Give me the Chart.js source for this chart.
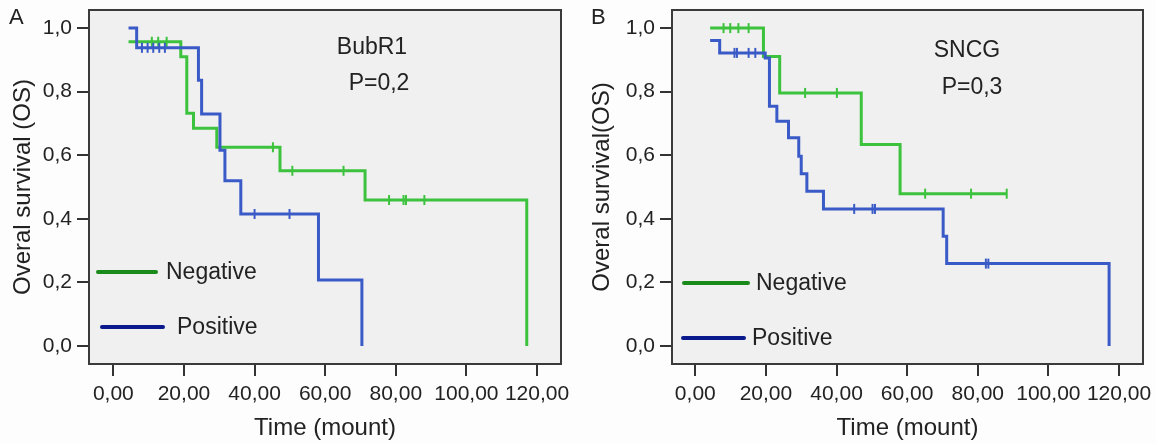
<!DOCTYPE html>
<html>
<head>
<meta charset="utf-8">
<script src="https://cdn.jsdelivr.net/npm/chart.js@4.4.1/dist/chart.umd.min.js"></script>
<style>
  body { margin: 0; background: #fdfdfd; width: 1156px; height: 444px; overflow: hidden; position: relative; }
  canvas { position: absolute; top: 0; }
</style>
</head>
<body>
<canvas id="chartA" width="578" height="444" style="left:0"></canvas>
<canvas id="chartB" width="578" height="444" style="left:578px"></canvas>
<script>
// panel A - BubR1
const negTimeA = [4.3, 19.1, 20.8, 22.7, 29.3, 47.2, 71.3, 117.1];
const negSurvA = [0.957, 0.91, 0.732, 0.685, 0.625, 0.551, 0.459, 0];
const negCensTimeA = [10.9, 12.7, 15.1, 45.2, 50.7, 65.2, 78.1, 82.2, 82.9, 88.1];
const negCensSurvA = [0.957, 0.957, 0.957, 0.625, 0.551, 0.551, 0.459, 0.459, 0.459, 0.459];
const posTimeA = [4.3, 6.6, 24.1, 25.0, 30.2, 31.6, 36.1, 58.1, 70.4];
const posSurvA = [1.0, 0.938, 0.836, 0.73, 0.616, 0.52, 0.415, 0.2075, 0];
const posCensTimeA = [8.1, 9.7, 11.3, 13.0, 14.6, 40.0, 49.9];
const posCensSurvA = [0.938, 0.938, 0.938, 0.938, 0.938, 0.415, 0.415];

// panel B - SNCG
const negTimeB = [4.2, 19.3, 23.9, 47.0, 58.0, 88.2];
const negSurvB = [1.0, 0.911, 0.796, 0.634, 0.479, 0.479];
const negCensTimeB = [8.0, 9.9, 12.2, 15.1, 31.1, 40.1, 65.1, 78.1, 88.2];
const negCensSurvB = [1.0, 1.0, 1.0, 1.0, 0.796, 0.796, 0.479, 0.479, 0.479];
const posTimeB = [4.2, 6.9, 19.8, 21.0, 23.1, 26.4, 29.3, 30.0, 31.6, 36.3, 70.2, 71.2, 117.2];
const posSurvB = [0.961, 0.922, 0.906, 0.754, 0.707, 0.655, 0.597, 0.542, 0.487, 0.431, 0.345, 0.259, 0];
const posCensTimeB = [11.1, 11.8, 15.1, 17.0, 45.0, 50.2, 50.9, 82.3, 83.0];
const posCensSurvB = [0.922, 0.922, 0.922, 0.922, 0.431, 0.431, 0.431, 0.259, 0.259];

const xTicks = [0, 20, 40, 60, 80, 100, 120];
const yTicks = [0, 0.2, 0.4, 0.6, 0.8, 1.0];

const GREEN = '#3cc23c';
const BLUE = '#3a5bc7';
const FONT = '"Liberation Sans", Arial, sans-serif';
const TEXT = '#222';

function pts(t, s) {
    return t.map((v, i) => ({ x: v, y: s[i] }));
}

const decor = {
    id: 'decor',
    beforeDraw(chart, args, o) {
        const ctx = chart.ctx, a = chart.chartArea;
        ctx.save();
        ctx.fillStyle = '#fdfdfd';
        ctx.fillRect(0, 0, chart.width, chart.height);
        ctx.fillStyle = '#f0f0f0';
        ctx.fillRect(a.left, a.top, a.right - a.left, a.bottom - a.top);
        ctx.restore();
    },
    afterDraw(chart, args, o) {
        const ctx = chart.ctx, a = chart.chartArea;
        ctx.save();
        ctx.strokeStyle = '#3a3a3a';
        ctx.lineWidth = 2;
        ctx.strokeRect(a.left, a.top, a.right - a.left, a.bottom - a.top);

        // legend inside the plot
        ctx.lineCap = 'round';
        ctx.lineWidth = 4;
        o.legend.forEach(l => {
            ctx.strokeStyle = l.color;
            ctx.beginPath();
            ctx.moveTo(l.x1, l.y);
            ctx.lineTo(l.x2, l.y);
            ctx.stroke();
            ctx.fillStyle = TEXT;
            ctx.font = '23px ' + FONT;
            ctx.textAlign = 'left';
            ctx.textBaseline = 'middle';
            ctx.fillText(l.text, l.tx, l.y + 1);
        });

        // gene name and p value
        ctx.textAlign = 'center';
        ctx.textBaseline = 'middle';
        ctx.font = '23px ' + FONT;
        o.notes.forEach(n => ctx.fillText(n.text, n.x, n.y));

        ctx.textAlign = 'left';
        ctx.textBaseline = 'top';
        ctx.font = '22px ' + FONT;
        ctx.fillText(o.letter.text, o.letter.x, o.letter.y);
        ctx.restore();
    }
};

function kmChart(id, d) {
    const ctx = document.getElementById(id).getContext('2d');
    return new Chart(ctx, {
        type: 'line',
        data: {
            datasets: [
                { data: pts(d.posT, d.posS), borderColor: BLUE, borderWidth: 3, stepped: 'before', pointRadius: 0 },
                { data: pts(d.posCT, d.posCS), showLine: false, pointStyle: 'line', rotation: 90,
                  pointRadius: 5, pointBorderWidth: 2, borderColor: BLUE },
                { data: pts(d.negT, d.negS), borderColor: GREEN, borderWidth: 3, stepped: 'before', pointRadius: 0 },
                { data: pts(d.negCT, d.negCS), showLine: false, pointStyle: 'line', rotation: 90,
                  pointRadius: 5, pointBorderWidth: 2, borderColor: GREEN }
            ]
        },
        options: {
            responsive: false,
            animation: false,
            devicePixelRatio: 1,
            layout: { padding: { left: 0, right: d.padRight, top: 10, bottom: 0 } },
            plugins: {
                legend: { display: false },
                tooltip: { enabled: false },
                decor: d.decor
            },
            scales: {
                x: {
                    type: 'linear',
                    min: d.xMin, max: 126.8,
                    afterBuildTicks: s => { s.ticks = xTicks.map(v => ({ value: v })); },
                    afterFit: s => { s.height = 80; s.paddingLeft = 0; s.paddingRight = 0; },
                    grid: { drawOnChartArea: false, tickLength: 12, color: '#333', lineWidth: 2 },
                    border: { display: false },
                    ticks: {
                        autoSkip: false, maxRotation: 0, padding: 6, color: TEXT,
                        font: { family: FONT, size: 21 },
                        callback: v => v.toFixed(2).replace('.', ',')
                    },
                    title: { display: true, text: 'Time (mount)', color: TEXT,
                             font: { family: FONT, size: 24 }, padding: { top: 0, bottom: 1 } }
                },
                y: {
                    min: -0.057, max: 1.057,
                    afterBuildTicks: s => { s.ticks = yTicks.map(v => ({ value: v })); },
                    afterFit: s => { s.width = d.yWidth; s.paddingTop = 0; s.paddingBottom = 0; },
                    grid: { drawOnChartArea: false, tickLength: 12, color: '#333', lineWidth: 2 },
                    border: { display: false },
                    ticks: {
                        autoSkip: false, padding: 5, color: TEXT,
                        font: { family: FONT, size: 21 },
                        callback: v => v.toFixed(1).replace('.', ',')
                    },
                    title: { display: true, text: d.yTitle, color: TEXT,
                             font: { family: FONT, size: 24 }, padding: { top: d.yTitlePad, bottom: 0 } }
                }
            }
        },
        plugins: [decor]
    });
}

kmChart('chartA', {
    negT: negTimeA, negS: negSurvA, negCT: negCensTimeA, negCS: negCensSurvA,
    posT: posTimeA, posS: posSurvA, posCT: posCensTimeA, posCS: posCensSurvA,
    xMin: -6.9, padRight: 17, yWidth: 89, yTitle: 'Overal survival (OS)', yTitlePad: 9,
    decor: {
        letter: { text: 'A', x: 9, y: 7 },
        notes: [{ text: 'BubR1', x: 372, y: 48 }, { text: 'P=0,2', x: 379, y: 84 }],
        legend: [
            { color: '#1a8a1a', x1: 98, x2: 156, y: 272, text: 'Negative', tx: 166 },
            { color: '#0a1a8c', x1: 102, x2: 163, y: 327, text: 'Positive', tx: 177 }
        ]
    }
});

kmChart('chartB', {
    negT: negTimeB, negS: negSurvB, negCT: negCensTimeB, negCS: negCensSurvB,
    posT: posTimeB, posS: posSurvB, posCT: posCensTimeB, posCS: posCensSurvB,
    xMin: -6.6, padRight: 13, yWidth: 94, yTitle: 'Overal survival(OS)', yTitlePad: 10,
    decor: {
        letter: { text: 'B', x: 13, y: 7 },
        notes: [{ text: 'SNCG', x: 389, y: 51 }, { text: 'P=0,3', x: 394, y: 88 }],
        legend: [
            { color: '#1a8a1a', x1: 106, x2: 170, y: 283, text: 'Negative', tx: 178 },
            { color: '#0a1a8c', x1: 105, x2: 166, y: 338, text: 'Positive', tx: 174 }
        ]
    }
});
</script>
</body>
</html>
